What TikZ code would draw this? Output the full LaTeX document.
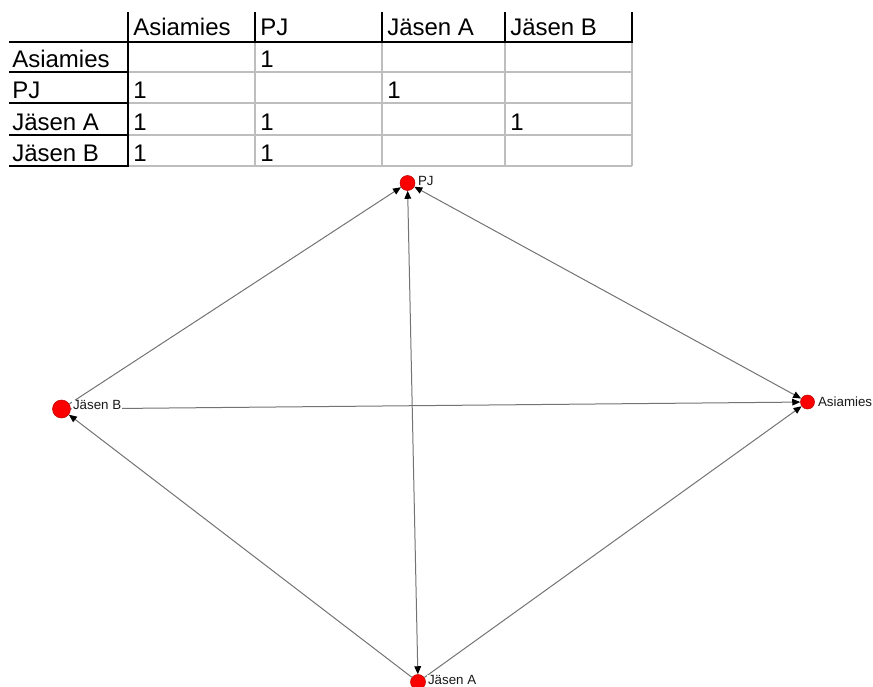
\documentclass[tikz,border=0pt]{standalone}
\usepackage{fontspec}
\setmainfont{Liberation Sans}
\usetikzlibrary{arrows.meta}
\definecolor{edgegray}{RGB}{115,115,115}
\definecolor{gridgray}{RGB}{190,190,190}
\definecolor{nodered}{RGB}{250,0,0}
\begin{document}
\begin{tikzpicture}[x=0.75pt,y=-0.75pt,
  cell/.style={anchor=base west,inner sep=0pt,font=\fontsize{18}{18}\selectfont},
  blk/.style={line width=2pt,black},
  gry/.style={line width=1.6pt,gridgray},
  vert/.style={circle,fill=nodered,draw=red!75!black,line width=0.4pt,inner sep=0pt},
  lbl/.style={anchor=west,inner sep=0.6pt,fill=white,font=\fontsize{10}{10}\selectfont,text=black!90},
  edge/.style={edgegray,line width=0.75pt,-{Triangle[length=6pt,width=5pt,color=black]}},
  bedge/.style={edgegray,line width=0.75pt,{Triangle[length=6pt,width=5pt,color=black]}-{Triangle[length=6pt,width=5pt,color=black]}}]
\useasboundingbox (0,0) rectangle (873,686);
% ---- table grid ----
\foreach \y in {72,103,135,166} \draw[gry] (128,\y) -- (632,\y);
\foreach \x in {255,382,505,632} \draw[gry] (\x,42) -- (\x,166);
\foreach \y in {42,72,103,135,166} \draw[blk] (9,\y) -- (128,\y);
\draw[blk] (9,42) -- (633,42);
\foreach \x in {255,382,505,632} \draw[blk] (\x,12) -- (\x,42);
\draw[blk] (128,12) -- (128,167);
% ---- table text ----
\node[cell] (h1) at (133,35) {Asiamies};
\node[cell] (h2) at (260,35) {PJ};
\node[cell] (h3) at (387,35) {Jäsen A};
\node[cell] (h4) at (510,35) {Jäsen B};
\node[cell] (r1) at (12,67) {Asiamies};
\node[cell] (r2) at (12,98) {PJ};
\node[cell] (r3) at (12,130) {Jäsen A};
\node[cell] (r4) at (12,161) {Jäsen B};
\node[cell] (c12) at (260,67) {1};
\node[cell] (c21) at (133,98) {1};
\node[cell] (c23) at (387,98) {1};
\node[cell] (c31) at (133,130) {1};
\node[cell] (c32) at (260,130) {1};
\node[cell] (c34) at (510,130) {1};
\node[cell] (c41) at (133,161) {1};
\node[cell] (c42) at (260,161) {1};
% ---- graph ----
\node[vert,minimum size=11.25pt] (pj) at (407.5,183) {};
\node[vert,minimum size=13.5pt] (jb) at (61.5,409) {};
\node[vert,minimum size=10.5pt] (as) at (807.5,402) {};
\node[vert,minimum size=11.25pt] (ja) at (418,682) {};
\draw[bedge] (pj) -- (as);
\draw[bedge] (pj) -- (ja);
\draw[edge] (jb) -- (as);
\draw[edge] (jb) -- (pj);
\draw[edge] (ja) -- (as);
\draw[edge] (ja) -- (jb);
\node[lbl] (pjl) at (417,181) {PJ};
\node[lbl] (jbl) at (72,405) {Jäsen B};
\node[lbl] (asl) at (817,402) {Asiamies};
\node[lbl] (jal) at (427,680) {Jäsen A};
\end{tikzpicture}
\end{document}
